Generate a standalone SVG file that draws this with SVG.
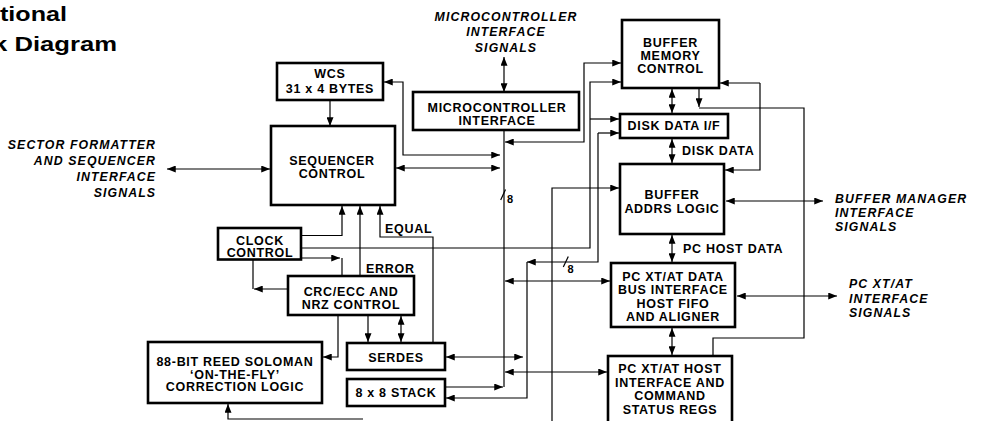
<svg xmlns="http://www.w3.org/2000/svg" width="981" height="421" viewBox="0 0 981 421">
<style>
.bx{fill:#fff;stroke:#000;stroke-width:2.6}
.t{font-family:"Liberation Sans",Arial,sans-serif;font-weight:bold;font-size:12.5px;letter-spacing:0.7px;fill:#000}
.c{text-anchor:middle}
.it{font-family:"Liberation Sans",Arial,sans-serif;font-weight:bold;font-style:italic;font-size:12.3px;letter-spacing:1.1px;fill:#000}
.ttl{font-family:"Liberation Sans",Arial,sans-serif;font-weight:bold;font-size:21px;fill:#000}
.ln{fill:none;stroke:#000;stroke-width:1.2}
.a{marker-end:url(#ah)}
.aa{marker-end:url(#ah);marker-start:url(#ah)}
</style>
<defs>
<marker id="ah" viewBox="0 0 10 8" refX="10" refY="4" markerWidth="9" markerHeight="7" markerUnits="userSpaceOnUse" orient="auto-start-reverse">
<path d="M0,0 L10,4 L0,8 z" fill="#000"/>
</marker>
</defs>
<rect width="981" height="421" fill="#fff"/>

<g id="title">
<text class="ttl" x="0" y="21" textLength="67" lengthAdjust="spacingAndGlyphs">tional</text>
<text class="ttl" x="-7" y="51" textLength="124" lengthAdjust="spacingAndGlyphs">k Diagram</text>
</g>

<g id="connectors">
<path class="ln aa" d="M504,57 V92"/>
<path class="ln a" d="M330,100 V126"/>
<path class="ln aa" d="M500,155 H403 V82 H384"/>
<path class="ln aa" d="M396,168 H500"/>
<path class="ln aa" d="M167,169 H270"/>
<path class="ln aa" d="M505,142 H584 V63 H621"/>
<path class="ln" d="M504,130 V387"/>
<path class="ln" d="M500.7,200 L505.5,189.5"/>
<path class="ln" d="M563.3,267 L568.3,256.5"/>
<path class="ln a" d="M446,387 H503"/>
<path class="ln a" d="M301,248 H590 V82 H621"/>
<path class="ln a" d="M590,119 H619"/>
<path class="ln a" d="M598,133 H619"/>
<path class="ln a" d="M598,133 V262 H527"/>
<path class="ln a" d="M527,262 V398 H446"/>
<path class="ln a" d="M552,421 V188 H619"/>
<path class="ln aa" d="M505,281 H610"/>
<path class="ln aa" d="M446,357 H523"/>
<path class="ln aa" d="M505,372 H607"/>
<path class="ln aa" d="M672,89 V113"/>
<path class="ln a" d="M699,89 V107"/>
<path class="ln" d="M699,108 H804 V338 H713 V355"/>
<path class="ln a" d="M760,83 H720"/>
<path class="ln a" d="M760,83 V170 H725"/>
<path class="ln aa" d="M672,139 V163"/>
<path class="ln aa" d="M726,201 H823"/>
<path class="ln aa" d="M672,235 V262"/>
<path class="ln aa" d="M737,296 H837"/>
<path class="ln aa" d="M672,328 V355"/>
<path class="ln a" d="M301,235.5 H342 V206"/>
<path class="ln a" d="M360,275 V206"/>
<path class="ln a" d="M433,342 V237 H380 V206"/>
<path class="ln a" d="M301,258 H340"/>
<path class="ln" d="M342,258 V275"/>
<path class="ln" d="M253,260 V289"/>
<path class="ln a" d="M287,289 H254"/>
<path class="ln a" d="M368,316 V342"/>
<path class="ln aa" d="M401,316 V342"/>
<path class="ln a" d="M338,316 V357 H323"/>
<path class="ln a" d="M363,419 H228 V404"/>
</g>

<g id="labels">
<text class="it c" x="506" y="21">MICROCONTROLLER</text>
<text class="it c" x="506" y="36">INTERFACE</text>
<text class="it c" x="506" y="51.5">SIGNALS</text>
<text class="it" x="156.1" y="148.5" text-anchor="end">SECTOR FORMATTER</text>
<text class="it" x="156.1" y="164.5" text-anchor="end">AND SEQUENCER</text>
<text class="it" x="156.1" y="180.5" text-anchor="end">INTERFACE</text>
<text class="it" x="156.1" y="196.5" text-anchor="end">SIGNALS</text>
<text class="it" x="835" y="203">BUFFER MANAGER</text>
<text class="it" x="835" y="217">INTERFACE</text>
<text class="it" x="835" y="231">SIGNALS</text>
<text class="it" x="849" y="288">PC XT/AT</text>
<text class="it" x="849" y="302.5">INTERFACE</text>
<text class="it" x="849" y="317">SIGNALS</text>
<text class="t" x="682" y="155">DISK DATA</text>
<text class="t" x="683" y="253">PC HOST DATA</text>
<text class="t" x="366" y="273">ERROR</text>
<text class="t" x="385" y="232.5">EQUAL</text>
<text class="t" x="507" y="203" style="font-size:11px">8</text>
<text class="t" x="567.5" y="273" style="font-size:11px">8</text>
</g>

<g id="wcs">
<rect class="bx" x="277" y="63" width="106" height="37"/>
<text class="t c" x="330" y="78">WCS</text>
<text class="t c" x="330" y="92.5">31 x 4 BYTES</text>
</g>
<g id="sequencer">
<rect class="bx" x="271" y="126" width="124" height="79"/>
<text class="t c" x="332" y="165">SEQUENCER</text>
<text class="t c" x="332" y="177.5">CONTROL</text>
</g>
<g id="micro">
<rect class="bx" x="413" y="92" width="166" height="38"/>
<text class="t c" x="497" y="112">MICROCONTROLLER</text>
<text class="t c" x="497" y="124.5">INTERFACE</text>
</g>
<g id="bmc">
<rect class="bx" x="622" y="20" width="97" height="68"/>
<text class="t c" x="670.5" y="47">BUFFER</text>
<text class="t c" x="670.5" y="60">MEMORY</text>
<text class="t c" x="670.5" y="73">CONTROL</text>
</g>
<g id="ddif">
<rect class="bx" x="620" y="114" width="108" height="24"/>
<text class="t c" x="674" y="130">DISK DATA I/F</text>
</g>
<g id="bal">
<rect class="bx" x="620" y="164" width="104" height="70"/>
<text class="t c" x="672" y="199">BUFFER</text>
<text class="t c" x="672" y="213">ADDRS LOGIC</text>
</g>
<g id="pcdata">
<rect class="bx" x="611" y="263" width="124" height="64"/>
<text class="t c" x="673" y="280.5">PC XT/AT DATA</text>
<text class="t c" x="673" y="294">BUS INTERFACE</text>
<text class="t c" x="673" y="307.5">HOST FIFO</text>
<text class="t c" x="673" y="321">AND ALIGNER</text>
</g>
<g id="pchost">
<rect class="bx" x="608" y="356" width="124" height="80"/>
<text class="t c" x="670" y="373">PC XT/AT HOST</text>
<text class="t c" x="670" y="387">INTERFACE AND</text>
<text class="t c" x="670" y="400">COMMAND</text>
<text class="t c" x="670" y="413.5">STATUS REGS</text>
</g>
<g id="clock">
<rect class="bx" x="218" y="228" width="83" height="31.5"/>
<text class="t c" x="260" y="244.5">CLOCK</text>
<text class="t c" x="260" y="257">CONTROL</text>
</g>
<g id="crc">
<rect class="bx" x="288" y="276" width="126" height="39"/>
<text class="t c" x="351" y="295.5">CRC/ECC AND</text>
<text class="t c" x="351" y="308.5">NRZ CONTROL</text>
</g>
<g id="rs">
<rect class="bx" x="148" y="342" width="174" height="61"/>
<text class="t c" x="235" y="366">88-BIT REED SOLOMAN</text>
<text class="t c" x="235" y="378.5">‘ON-THE-FLY’</text>
<text class="t c" x="235" y="391">CORRECTION LOGIC</text>
</g>
<g id="serdes">
<rect class="bx" x="347" y="343" width="98" height="27"/>
<text class="t c" x="396" y="361.5">SERDES</text>
</g>
<g id="stack">
<rect class="bx" x="347" y="379" width="98" height="27"/>
<text class="t c" x="396" y="396.5">8 x 8 STACK</text>
</g>
</svg>
